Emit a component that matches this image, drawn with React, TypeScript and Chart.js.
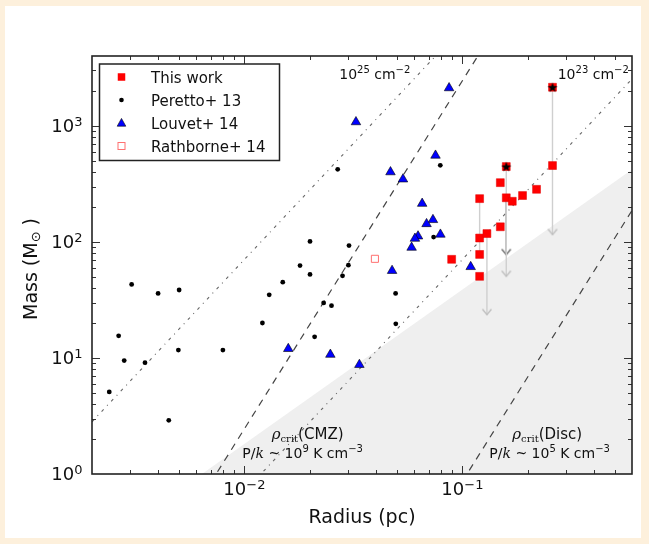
import React, { useEffect, useRef } from 'react';
import { Chart, registerables } from 'chart.js';

Chart.register(...registerables);

// ---------- data ----------
const THIS_WORK_R = [0.0893, 0.12, 0.12, 0.12, 0.12, 0.1296, 0.1493, 0.1493, 0.159, 0.159, 0.1694, 0.1888, 0.2189, 0.2591, 0.2591];
const THIS_WORK_M = [70.8, 236, 108, 78, 50.5, 118, 324, 135, 446, 240, 224, 251, 284, 2152, 455];
const STAR_R = [0.159, 0.2591];
const STAR_M = [446, 2152];

const PERETTO_R = [0.0024, 0.00265, 0.00281, 0.00304, 0.0035, 0.00402, 0.0045, 0.00502, 0.00498, 0.00797, 0.0121, 0.013, 0.015, 0.018, 0.02, 0.02, 0.021, 0.0231, 0.0251, 0.0268, 0.0282, 0.03, 0.0302, 0.0494, 0.0495, 0.0738, 0.0792];
const PERETTO_M = [5.1, 15.5, 9.5, 43, 9.1, 36, 2.9, 38.5, 11.7, 11.7, 20, 35, 45, 62.5, 101, 52.5, 15.2, 29.8, 28.2, 422, 51, 63, 93, 36, 19.7, 110, 457];

const LOUVET_R = [0.0325, 0.0869, 0.0468, 0.0534, 0.0753, 0.0654, 0.0733, 0.0685, 0.0793, 0.0626, 0.0606, 0.0585, 0.0476, 0.1092, 0.0159, 0.0248, 0.0337];
const LOUVET_M = [1080, 2120, 400, 347, 556, 214, 155, 143, 116, 112, 107, 89.5, 56.5, 61, 12.0, 10.7, 8.75];

const RATHBORNE_R = [0.0397];
const RATHBORNE_M = [71.5];

// upper-limit arrows (radius, start mass, end mass)
const ARROW_R = [0.12, 0.1296, 0.159, 0.159, 0.2591];
const ARROW_FROM = [236, 118, 446, 240, 2152];
const ARROW_TO = [78, 23.6, 50.5, 77.7, 115.6];
const ARROW_HEAD = [false, true, true, true, true];
const ARROW_DARK = [false, false, false, true, false];

// reference lines (end points)
const COLDENS_25_R = [0.002, 0.08];
const COLDENS_25_M = [2.82, 4510];
const COLDENS_23_R = [0.01, 0.6];
const COLDENS_23_M = [0.705, 2537];
const RHO_CMZ_R = [0.007, 0.125];
const RHO_CMZ_M = [0.84, 4781];
const RHO_DISC_R = [0.1, 0.6];
const RHO_DISC_M = [0.864, 186.6];
const SHADE_R = [0.006, 0.6];
const SHADE_M = [0.92, 421];

// axes
const X_MIN = 0.002;
const X_MAX = 0.6;
const Y_MIN = 1;
const Y_MAX = 4000;
const X_MAJOR = [0.01, 0.1];
const X_MAJOR_LABELS = ['−2', '−1'];
const Y_MAJOR = [1, 10, 100, 1000];
const Y_MAJOR_LABELS = ['0', '1', '2', '3'];
const X_MINOR = [0.002, 0.003, 0.004, 0.005, 0.006, 0.007, 0.008, 0.009, 0.02, 0.03, 0.04, 0.05, 0.06, 0.07, 0.08, 0.09, 0.2, 0.3, 0.4, 0.5, 0.6];
const Y_MINOR = [2, 3, 4, 5, 6, 7, 8, 9, 20, 30, 40, 50, 60, 70, 80, 90, 200, 300, 400, 500, 600, 700, 800, 900, 2000, 3000];

const LEGEND_LABELS = ['This work', 'Peretto+ 13', 'Louvet+ 14', 'Rathborne+ 14'];

const SANS = '"DejaVu Sans", sans-serif';
const SERIF = '"DejaVu Serif", serif';

const pts = (xs: number[], ys: number[]) => xs.map((x, i) => ({ x, y: ys[i] }));

function makeStar(): HTMLCanvasElement {
  const c = document.createElement('canvas');
  c.width = 14;
  c.height = 14;
  const g = c.getContext('2d')!;
  g.beginPath();
  for (let i = 0; i < 10; i++) {
    const r = i % 2 === 0 ? 5.2 : 2.1;
    const a = -Math.PI / 2 + (i * Math.PI) / 5;
    const x = 7 + r * Math.cos(a);
    const y = 7.5 + r * Math.sin(a);
    if (i === 0) g.moveTo(x, y);
    else g.lineTo(x, y);
  }
  g.closePath();
  g.fillStyle = '#000';
  g.fill();
  return c;
}

function makeHead(color: string): HTMLCanvasElement {
  const c = document.createElement('canvas');
  c.width = 14;
  c.height = 14;
  const g = c.getContext('2d')!;
  g.strokeStyle = color;
  g.lineWidth = 1.3;
  g.beginPath();
  g.moveTo(2.5, 1.5);
  g.lineTo(7, 7);
  g.lineTo(11.5, 1.5);
  g.stroke();
  return c;
}

type Part = { t: string; font: string; dy?: number };
function drawParts(ctx: CanvasRenderingContext2D, parts: Part[], x: number, y: number, align: 'left' | 'center' | 'right' = 'left') {
  let total = 0;
  const widths: number[] = [];
  for (const p of parts) {
    ctx.font = p.font;
    const w = ctx.measureText(p.t).width;
    widths.push(w);
    total += w;
  }
  let cx = align === 'left' ? x : align === 'center' ? x - total / 2 : x - total;
  ctx.textAlign = 'left';
  ctx.textBaseline = 'alphabetic';
  parts.forEach((p, i) => {
    ctx.font = p.font;
    ctx.fillText(p.t, cx, y + (p.dy || 0));
    cx += widths[i];
  });
}

const pow10 = (exp: string, size: number): Part[] => [
  { t: '10', font: `${size}px ${SANS}` },
  { t: exp, font: `${Math.round(size * 0.72)}px ${SANS}`, dy: -size * 0.33 },
];

const backgroundPlugin = {
  id: 'bg',
  beforeDraw(chart: any) {
    const ctx = chart.ctx as CanvasRenderingContext2D;
    ctx.save();
    ctx.fillStyle = '#fdf0dc';
    ctx.fillRect(0, 0, chart.width, chart.height);
    ctx.fillStyle = '#ffffff';
    ctx.fillRect(5, 6, 636, 532);
    ctx.restore();
  },
};

const decorPlugin = {
  id: 'decor',
  afterDraw(chart: any) {
    const ctx = chart.ctx as CanvasRenderingContext2D;
    const { left, right, top, bottom } = chart.chartArea;
    const xs = chart.scales.x;
    const ys = chart.scales.y;
    ctx.save();

    // ticks (inward, all four sides)
    ctx.strokeStyle = '#333';
    ctx.lineWidth = 1;
    const seg = (x1: number, y1: number, x2: number, y2: number) => {
      ctx.beginPath();
      ctx.moveTo(x1, y1);
      ctx.lineTo(x2, y2);
      ctx.stroke();
    };
    const xt = (vals: number[], len: number) => {
      for (const v of vals) {
        const px = Math.round(xs.getPixelForValue(v)) + 0.5;
        if (px < left + 1 || px > right - 1) continue;
        seg(px, bottom, px, bottom - len);
        seg(px, top, px, top + len);
      }
    };
    const yt = (vals: number[], len: number) => {
      for (const v of vals) {
        const py = Math.round(ys.getPixelForValue(v)) + 0.5;
        if (py < top + 1 || py > bottom - 1) continue;
        seg(left, py, left + len, py);
        seg(right, py, right - len, py);
      }
    };
    xt(X_MINOR, 4);
    xt(X_MAJOR, 8);
    yt(Y_MINOR, 4);
    yt(Y_MAJOR, 8);

    // frame
    ctx.strokeStyle = '#222';
    ctx.lineWidth = 1.6;
    ctx.strokeRect(left, top, right - left, bottom - top);

    // tick labels
    ctx.fillStyle = '#111';
    X_MAJOR.forEach((v, i) => {
      const px = xs.getPixelForValue(v);
      drawParts(ctx, pow10(X_MAJOR_LABELS[i], 18), px, bottom + 21, 'center');
    });
    Y_MAJOR.forEach((v, i) => {
      const py = ys.getPixelForValue(v);
      drawParts(ctx, pow10(Y_MAJOR_LABELS[i], 18), left - 9.5, py + 6.4, 'right');
    });

    // axis titles
    drawParts(ctx, [{ t: 'Radius (pc)', font: `19px ${SANS}` }], (left + right) / 2, 522.7, 'center');
    ctx.save();
    ctx.translate(36.7, 269);
    ctx.rotate(-Math.PI / 2);
    drawParts(ctx, [
      { t: 'Mass (M', font: `19px ${SANS}` },
      { t: '⊙', font: `13px ${SANS}`, dy: 3 },
      { t: ' )', font: `19px ${SANS}` },
    ], 0, 0, 'center');
    ctx.restore();

    // line annotations
    const sup = `10px ${SANS}`;
    const f14 = `14px ${SANS}`;
    drawParts(ctx, [{ t: '10', font: f14 }, { t: '25', font: sup, dy: -6 }, { t: ' cm', font: f14 }, { t: '−2', font: sup, dy: -6 }], 339.3, 79.3);
    drawParts(ctx, [{ t: '10', font: f14 }, { t: '23', font: sup, dy: -6 }, { t: ' cm', font: f14 }, { t: '−2', font: sup, dy: -6 }], 557.7, 79.3);
    const rho = (name: string): Part[] => [
      { t: 'ρ', font: `italic 15px ${SERIF}` },
      { t: 'crit', font: `10px ${SERIF}`, dy: 3 },
      { t: name, font: `15px ${SANS}` },
    ];
    const pk = (e: string): Part[] => [
      { t: 'P/', font: f14 },
      { t: 'k', font: `italic 14px ${SERIF}` },
      { t: ' ~ 10', font: f14 },
      { t: e, font: sup, dy: -6 },
      { t: ' K cm', font: f14 },
      { t: '−3', font: sup, dy: -6 },
    ];
    drawParts(ctx, rho('(CMZ)'), 271.7, 439.3);
    drawParts(ctx, pk('9'), 242.3, 457.5);
    drawParts(ctx, rho('(Disc)'), 512.3, 439.3);
    drawParts(ctx, pk('5'), 489.3, 457.5);

    // legend
    const bx = 99.5, by = 64, bw = 180, bh = 96.5;
    ctx.fillStyle = '#fff';
    ctx.fillRect(bx, by, bw, bh);
    ctx.strokeStyle = '#222';
    ctx.lineWidth = 1.5;
    ctx.strokeRect(bx, by, bw, bh);
    const rows = [77, 100, 123, 146];
    const mx = 121.5;
    // This work
    ctx.fillStyle = '#ff0000';
    ctx.fillRect(mx - 3.75, rows[0] - 3.75, 7.5, 7.5);
    // Peretto
    ctx.fillStyle = '#000';
    ctx.beginPath();
    ctx.arc(mx, rows[1], 2.3, 0, Math.PI * 2);
    ctx.fill();
    // Louvet
    ctx.beginPath();
    ctx.moveTo(mx, rows[2] - 4.6);
    ctx.lineTo(mx + 4.3, rows[2] + 3.2);
    ctx.lineTo(mx - 4.3, rows[2] + 3.2);
    ctx.closePath();
    ctx.fillStyle = '#0000ff';
    ctx.fill();
    ctx.strokeStyle = '#000';
    ctx.lineWidth = 0.6;
    ctx.stroke();
    // Rathborne
    ctx.strokeStyle = '#ff7070';
    ctx.lineWidth = 1;
    ctx.strokeRect(mx - 3.5, rows[3] - 3.5, 7, 7);
    ctx.fillStyle = '#111';
    LEGEND_LABELS.forEach((t, i) => {
      drawParts(ctx, [{ t, font: `15px ${SANS}` }], 151, rows[i] + 5.5);
    });

    ctx.restore();
  },
};

export default function App() {
  const ref = useRef<HTMLCanvasElement>(null);

  useEffect(() => {
    document.body.style.margin = '0';
    const canvas = ref.current!;
    const star = makeStar();
    const headLight = makeHead('#bdbdbd');
    const headDark = makeHead('#666666');

    const lineDs = (xs: number[], ys: number[], color: string, dash: number[], width: number) => ({
      data: pts(xs, ys),
      showLine: true,
      borderColor: color,
      borderDash: dash,
      borderWidth: width,
      pointRadius: 0,
      fill: false,
      order: 7,
    });

    const arrowDs = ARROW_R.map((r, i) => ({
      data: [{ x: r, y: ARROW_FROM[i] }, { x: r, y: ARROW_TO[i] }],
      showLine: true,
      borderColor: ARROW_DARK[i] ? '#6e6e6e' : '#cfcfcf',
      borderWidth: 1.4,
      pointStyle: ARROW_DARK[i] ? headDark : headLight,
      pointRadius: [0, ARROW_HEAD[i] ? 1 : 0],
      fill: false,
      order: 6,
    }));

    const chart = new Chart(canvas, {
      type: 'scatter',
      data: {
        datasets: [
          {
            label: 'stars',
            data: pts(STAR_R, STAR_M),
            pointStyle: star as any,
            pointRadius: 1,
            order: 1,
          },
          {
            label: LEGEND_LABELS[0],
            data: pts(THIS_WORK_R, THIS_WORK_M),
            pointStyle: 'rect',
            pointRadius: 5.6,
            backgroundColor: '#ff0000',
            borderColor: '#e00000',
            borderWidth: 0.5,
            order: 2,
          },
          {
            label: LEGEND_LABELS[2],
            data: pts(LOUVET_R, LOUVET_M),
            pointStyle: 'triangle',
            pointRadius: 5.5,
            backgroundColor: '#0000ff',
            borderColor: '#000000',
            borderWidth: 0.6,
            order: 3,
          },
          {
            label: LEGEND_LABELS[1],
            data: pts(PERETTO_R, PERETTO_M),
            pointStyle: 'circle',
            pointRadius: 2.4,
            backgroundColor: '#000000',
            borderWidth: 0,
            order: 4,
          },
          {
            label: LEGEND_LABELS[3],
            data: pts(RATHBORNE_R, RATHBORNE_M),
            pointStyle: 'rect',
            pointRadius: 5,
            backgroundColor: '#ffffff',
            borderColor: '#ff7070',
            borderWidth: 1,
            order: 5,
          },
          ...arrowDs,
          lineDs(COLDENS_25_R, COLDENS_25_M, '#666666', [3, 5, 1, 5], 1.1),
          lineDs(COLDENS_23_R, COLDENS_23_M, '#666666', [3, 5, 1, 5], 1.1),
          lineDs(RHO_CMZ_R, RHO_CMZ_M, '#444444', [7, 6], 1.2),
          lineDs(RHO_DISC_R, RHO_DISC_M, '#444444', [7, 6], 1.2),
          {
            data: pts(SHADE_R, SHADE_M),
            showLine: true,
            borderWidth: 0,
            borderColor: 'rgba(0,0,0,0)',
            backgroundColor: '#efefef',
            fill: 'start',
            pointRadius: 0,
            order: 8,
          },
        ] as any,
      },
      options: {
        responsive: false,
        animation: false,
        devicePixelRatio: 1,
        events: [],
        layout: { padding: { left: 92, top: 56, right: 17, bottom: 70 } },
        plugins: { legend: { display: false }, tooltip: { enabled: false } },
        scales: {
          x: { type: 'logarithmic', min: X_MIN, max: X_MAX, display: false },
          y: { type: 'logarithmic', min: Y_MIN, max: Y_MAX, display: false },
        },
      },
      plugins: [backgroundPlugin, decorPlugin],
    });
    return () => chart.destroy();
  }, []);

  return (
    <div style={{ width: 649, height: 544, position: 'relative' }}>
      <canvas ref={ref} width={649} height={544} style={{ display: 'block', width: 649, height: 544 }} />
    </div>
  );
}
